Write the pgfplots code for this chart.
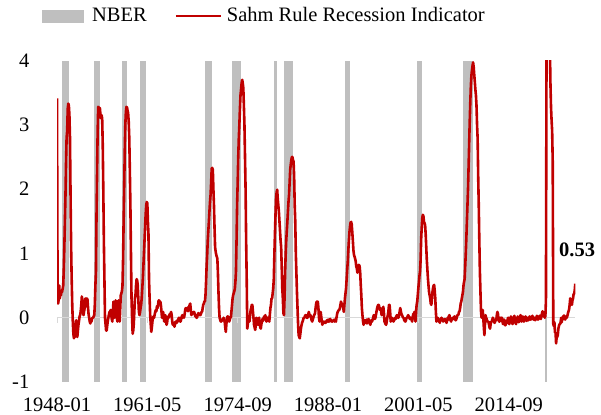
\documentclass[border=0pt]{standalone}
\usepackage{pgfplots}
\pgfplotsset{compat=1.18}
\usepackage{fontspec}
\setmainfont{Liberation Serif}
\definecolor{nber}{HTML}{BFBFBF}
\definecolor{sahm}{HTML}{C00000}
\definecolor{zline}{HTML}{D9D9D9}
\newcommand{\chartfont}{\fontsize{20.5bp}{24bp}\selectfont}
\begin{document}
\chartfont
\begin{tikzpicture}
\useasboundingbox (0,0) rectangle (601bp,415bp);
\begin{axis}[
  at={(57bp,33bp)}, anchor=south west,
  scale only axis, width=518.3bp, height=321.5bp,
  xmin=0, xmax=918, ymin=-1, ymax=4,
  axis line style={draw=none},
  xtick={0,160,320,480,640,800},
  xticklabels={1948-01,1961-05,1974-09,1988-01,2001-05,2014-09},
  ytick={-1,0,1,2,3,4},
  yticklabels={-1,0,1,2,3,4},
  major tick length=0pt,
  tick label style={font=\chartfont, inner sep=0pt},
  xticklabel style={anchor=north, yshift=-15.3bp},
  yticklabel style={anchor=east, xshift=-27.5bp},
  clip mode=individual,
  legend style={
    at={(0.398,1.1384)}, anchor=center,
    draw=none, fill=none, inner sep=0pt, outer sep=0pt,
    font=\chartfont,
    nodes={inner sep=0pt},
    /tikz/every odd column/.append style={column sep=5bp},
    /tikz/every even column/.append style={column sep=28bp},
  },
  legend columns=-1,
]
% NBER recession bands (month index, 0 = 1948-01)
\addplot[fill=nber, draw=none, forget plot] coordinates {(9.5,-1) (9.5,4) (21.5,4) (21.5,-1)} -- cycle;
\addplot[fill=nber, draw=none, forget plot] coordinates {(65.5,-1) (65.5,4) (76.5,4) (76.5,-1)} -- cycle;
\addplot[fill=nber, draw=none, forget plot] coordinates {(114.5,-1) (114.5,4) (123.5,4) (123.5,-1)} -- cycle;
\addplot[fill=nber, draw=none, forget plot] coordinates {(146.5,-1) (146.5,4) (157.5,4) (157.5,-1)} -- cycle;
\addplot[fill=nber, draw=none, forget plot] coordinates {(262.5,-1) (262.5,4) (274.5,4) (274.5,-1)} -- cycle;
\addplot[fill=nber, draw=none, forget plot] coordinates {(309.5,-1) (309.5,4) (326.5,4) (326.5,-1)} -- cycle;
\addplot[fill=nber, draw=none, forget plot] coordinates {(383.5,-1) (383.5,4) (390.5,4) (390.5,-1)} -- cycle;
\addplot[fill=nber, draw=none, forget plot] coordinates {(401.5,-1) (401.5,4) (418.5,4) (418.5,-1)} -- cycle;
\addplot[fill=nber, draw=none, forget plot] coordinates {(509.5,-1) (509.5,4) (518.5,4) (518.5,-1)} -- cycle;
\addplot[fill=nber, draw=none, forget plot] coordinates {(637.5,-1) (637.5,4) (646.5,4) (646.5,-1)} -- cycle;
\addplot[fill=nber, draw=none, forget plot] coordinates {(718.5,-1) (718.5,4) (737.5,4) (737.5,-1)} -- cycle;
\addplot[fill=nber, draw=none, forget plot] coordinates {(864.5,-1) (864.5,4) (867.5,4) (867.5,-1)} -- cycle;
% zero line with ticks
\draw[zline, line width=1.5bp] (axis cs:0,0) -- (axis cs:918,0);
\pgfplotsinvokeforeach{0,160,320,480,640,800}{
  \draw[zline, line width=1bp] (axis cs:#1,0) -- ++(0bp,-5bp);
}
\addlegendimage{legend image code/.code={\fill[nber] (0bp,-6bp) rectangle (41bp,6bp); \path (45bp,0bp);}}
\addlegendentry{NBER}
\addplot[sahm, line width=2.6bp, line join=round,
  legend image code/.code={\draw[sahm, line width=2bp] (0bp,0bp) -- (45bp,0bp);}]
  table[x expr=\coordindex, y=v, row sep=\\] {
v\\
3.41\\0.45\\0.22\\0.28\\0.5\\0.3\\0.38\\0.35\\0.42\\0.4\\
0.45\\0.5\\0.75\\1.1\\1.5\\1.9\\2.4\\2.8\\2.9\\3.25\\
3.33\\3.3\\3.15\\2.8\\1.9\\1.1\\0.6\\0.2\\-0.06\\-0.25\\
-0.32\\-0.2\\-0.3\\-0.1\\-0.04\\-0.2\\-0.3\\-0.2\\-0.11\\-0.05\\
0.02\\0.04\\0.1\\0.2\\0.33\\0.25\\0.1\\0.04\\0.1\\0.15\\
0.3\\0.25\\0.18\\0.3\\0.28\\0.15\\0.05\\0.0\\-0.06\\-0.09\\
-0.05\\-0.06\\-0.02\\0.0\\0.0\\0.02\\0.04\\0.2\\0.5\\0.72\\
1.6\\2.27\\2.9\\3.28\\3.27\\3.25\\3.26\\3.15\\3.1\\3.15\\
3.1\\2.7\\2.0\\1.2\\0.6\\0.0\\-0.1\\-0.2\\-0.2\\-0.12\\
-0.05\\0.0\\0.05\\0.09\\0.08\\0.12\\0.05\\-0.02\\-0.06\\0.1\\
0.25\\0.12\\0.0\\0.1\\0.27\\0.15\\0.0\\-0.06\\0.1\\0.27\\
0.05\\-0.06\\0.15\\0.35\\0.38\\0.41\\0.5\\0.9\\1.5\\2.01\\
2.6\\3.0\\3.2\\3.28\\3.27\\3.22\\3.18\\3.05\\2.8\\2.3\\
1.75\\1.0\\0.3\\0.0\\-0.25\\-0.2\\-0.1\\0.1\\0.3\\0.35\\
0.5\\0.6\\0.58\\0.51\\0.3\\0.1\\0.04\\0.08\\0.15\\0.2\\
0.3\\0.45\\0.6\\0.8\\1.0\\1.2\\1.4\\1.6\\1.75\\1.8\\
1.78\\1.5\\1.3\\0.6\\0.3\\0.05\\-0.1\\-0.22\\-0.15\\-0.06\\
0.0\\0.02\\0.0\\0.05\\0.09\\0.12\\0.1\\0.18\\0.15\\0.2\\
0.27\\0.27\\0.22\\0.25\\0.2\\0.1\\0.0\\0.05\\0.09\\0.0\\
-0.06\\0.0\\0.04\\-0.05\\-0.11\\-0.08\\0.0\\0.02\\0.0\\0.04\\
0.06\\0.04\\0.09\\0.05\\-0.05\\-0.11\\-0.08\\-0.1\\-0.14\\-0.1\\
-0.06\\-0.06\\-0.08\\-0.04\\-0.06\\-0.02\\0.0\\-0.03\\-0.06\\-0.06\\
-0.02\\0.02\\0.04\\0.0\\0.02\\0.0\\0.05\\0.12\\0.15\\0.12\\
0.15\\0.15\\0.1\\0.17\\0.17\\0.2\\0.22\\0.12\\0.04\\0.06\\
0.07\\0.07\\0.09\\0.09\\0.05\\0.02\\0.02\\0.0\\0.0\\0.04\\
0.07\\0.07\\0.05\\0.04\\0.04\\0.06\\0.09\\0.09\\0.15\\0.2\\
0.22\\0.25\\0.25\\0.35\\0.55\\0.8\\0.98\\1.2\\1.35\\1.49\\
1.65\\1.8\\1.91\\2.1\\2.32\\2.33\\2.3\\2.0\\1.75\\1.4\\
1.1\\1.03\\0.98\\0.95\\0.92\\0.7\\0.4\\0.15\\0.0\\-0.03\\
-0.06\\-0.06\\-0.03\\-0.04\\-0.04\\0.0\\-0.04\\-0.06\\-0.15\\-0.22\\
-0.1\\0.0\\0.02\\0.02\\-0.04\\-0.06\\-0.03\\0.0\\0.0\\0.1\\
0.2\\0.3\\0.35\\0.38\\0.41\\0.45\\0.56\\0.72\\1.2\\1.75\\
2.1\\2.5\\2.79\\3.0\\3.25\\3.46\\3.55\\3.65\\3.7\\3.65\\
3.57\\3.3\\3.0\\2.5\\2.0\\1.2\\0.6\\-0.17\\-0.1\\-0.02\\
0.0\\-0.06\\0.05\\0.12\\0.15\\0.2\\0.2\\0.1\\0.0\\-0.11\\
-0.15\\-0.19\\-0.12\\0.0\\-0.02\\-0.08\\-0.11\\-0.06\\0.0\\-0.08\\
-0.15\\-0.17\\-0.1\\-0.06\\-0.02\\-0.05\\0.0\\0.02\\0.0\\0.04\\
-0.02\\-0.06\\-0.03\\0.0\\0.0\\-0.04\\-0.06\\0.05\\0.15\\0.2\\
0.3\\0.3\\0.38\\0.46\\0.6\\0.98\\1.3\\1.6\\1.86\\1.95\\
1.99\\1.85\\1.75\\1.65\\1.5\\1.35\\1.2\\1.1\\0.8\\0.46\\
0.3\\0.07\\0.04\\0.3\\0.7\\0.98\\1.2\\1.35\\1.49\\1.65\\
1.8\\1.91\\2.1\\2.3\\2.38\\2.45\\2.5\\2.5\\2.45\\2.43\\
2.2\\1.75\\1.5\\1.0\\0.7\\0.4\\0.15\\-0.1\\-0.27\\-0.3\\
-0.32\\-0.25\\-0.17\\-0.12\\-0.08\\-0.06\\-0.03\\0.0\\0.0\\0.02\\
0.04\\0.04\\0.0\\0.0\\0.0\\0.05\\0.09\\0.05\\0.02\\0.04\\
0.0\\-0.04\\-0.06\\-0.03\\0.0\\0.03\\0.05\\0.07\\0.15\\0.22\\
0.25\\0.25\\0.25\\0.15\\0.0\\-0.06\\0.0\\0.09\\0.02\\-0.06\\
-0.11\\-0.08\\-0.06\\-0.06\\-0.08\\-0.08\\-0.08\\-0.06\\-0.04\\-0.06\\
-0.03\\-0.06\\-0.06\\-0.03\\-0.02\\-0.04\\-0.06\\-0.05\\-0.06\\-0.04\\
-0.04\\-0.03\\-0.06\\-0.05\\-0.06\\0.0\\0.05\\0.09\\0.1\\0.12\\
0.12\\0.15\\0.2\\0.25\\0.22\\0.2\\0.2\\0.15\\0.09\\0.2\\
0.3\\0.38\\0.46\\0.6\\0.75\\0.87\\1.05\\1.2\\1.33\\1.42\\
1.48\\1.49\\1.45\\1.33\\1.2\\1.05\\0.98\\0.95\\0.92\\0.88\\
0.8\\0.77\\0.7\\0.75\\0.82\\0.82\\0.8\\0.7\\0.51\\0.35\\
0.15\\0.04\\-0.05\\-0.11\\-0.08\\-0.04\\-0.06\\-0.08\\-0.03\\-0.09\\
-0.05\\-0.03\\-0.02\\-0.06\\-0.09\\-0.11\\-0.06\\-0.04\\-0.06\\-0.03\\
0.0\\0.04\\0.0\\-0.02\\0.0\\0.05\\0.1\\0.15\\0.18\\0.2\\
0.2\\0.15\\0.12\\0.15\\0.1\\0.04\\0.07\\0.12\\0.17\\0.08\\
-0.06\\-0.08\\-0.1\\-0.11\\-0.06\\0.0\\0.04\\0.1\\0.2\\0.2\\
0.1\\-0.06\\-0.04\\0.0\\-0.02\\-0.04\\-0.06\\-0.04\\-0.02\\0.0\\
-0.02\\0.02\\0.04\\0.02\\0.0\\0.0\\0.05\\0.1\\0.15\\0.1\\
0.06\\0.04\\0.02\\0.0\\0.0\\-0.04\\-0.05\\-0.06\\-0.04\\0.0\\
0.0\\0.02\\0.04\\0.02\\0.0\\-0.02\\0.0\\0.0\\-0.03\\-0.06\\
0.0\\0.06\\0.04\\0.09\\0.02\\-0.06\\0.1\\0.2\\0.25\\0.35\\
0.46\\0.55\\0.65\\0.72\\0.9\\1.23\\1.4\\1.55\\1.6\\1.58\\
1.49\\1.47\\1.44\\1.3\\1.1\\0.9\\0.75\\0.61\\0.5\\0.4\\
0.35\\0.3\\0.22\\0.2\\0.28\\0.4\\0.46\\0.5\\0.51\\0.42\\
0.3\\0.1\\-0.06\\-0.02\\0.0\\-0.02\\-0.06\\-0.04\\-0.08\\-0.02\\
-0.03\\0.0\\-0.04\\-0.02\\-0.06\\-0.04\\-0.03\\-0.02\\-0.04\\-0.06\\
-0.08\\-0.04\\0.0\\-0.03\\0.02\\0.04\\0.0\\-0.04\\-0.06\\-0.02\\
-0.03\\0.0\\-0.02\\0.0\\0.02\\-0.02\\-0.04\\-0.03\\0.0\\0.04\\
0.04\\0.05\\0.09\\0.1\\0.15\\0.22\\0.25\\0.3\\0.35\\0.4\\
0.5\\0.56\\0.6\\0.8\\1.0\\1.23\\1.5\\1.75\\2.01\\2.35\\
2.7\\3.05\\3.35\\3.6\\3.77\\3.85\\3.92\\3.97\\3.9\\3.78\\
3.67\\3.55\\3.46\\3.3\\3.0\\2.79\\2.2\\1.75\\1.2\\0.72\\
0.4\\0.1\\0.0\\0.05\\0.12\\0.0\\-0.15\\-0.27\\-0.1\\0.04\\
0.0\\-0.02\\-0.05\\-0.06\\-0.06\\-0.1\\-0.15\\-0.17\\-0.1\\-0.06\\
-0.06\\-0.03\\0.0\\-0.02\\-0.06\\-0.08\\-0.06\\-0.04\\-0.04\\0.04\\
0.09\\0.06\\-0.02\\-0.06\\-0.06\\-0.02\\0.0\\-0.04\\0.0\\-0.06\\
-0.1\\-0.05\\-0.03\\-0.06\\-0.12\\-0.1\\-0.05\\-0.08\\-0.03\\0.0\\
-0.05\\-0.1\\-0.06\\-0.02\\0.02\\-0.04\\-0.08\\-0.1\\-0.04\\0.0\\
0.03\\-0.02\\-0.06\\-0.1\\-0.05\\-0.02\\0.02\\-0.03\\-0.07\\-0.04\\
0.0\\0.04\\-0.02\\-0.06\\-0.02\\0.02\\-0.03\\-0.06\\-0.04\\0.0\\
0.02\\-0.02\\-0.05\\-0.02\\0.0\\-0.04\\-0.02\\0.02\\0.0\\-0.03\\
-0.02\\0.0\\0.03\\0.0\\-0.03\\-0.02\\0.0\\-0.04\\-0.02\\0.0\\
0.03\\0.0\\-0.03\\-0.02\\0.0\\0.03\\0.0\\-0.02\\0.02\\0.07\\
0.1\\0.05\\0.02\\0.04\\0.0\\0.03\\0.27\\4.07\\7.3\\9.57\\
8.03\\6.4\\5.3\\4.2\\3.63\\3.27\\3.07\\2.9\\2.43\\-0.1\\
-0.13\\-0.07\\-0.23\\-0.23\\-0.4\\-0.3\\-0.3\\-0.27\\-0.17\\-0.13\\
-0.1\\-0.1\\-0.07\\0.0\\-0.07\\0.0\\-0.03\\0.03\\0.03\\0.03\\
-0.03\\0.0\\0.0\\0.0\\0.03\\0.07\\0.1\\0.13\\0.2\\0.3\\
0.27\\0.23\\0.2\\0.27\\0.3\\0.37\\0.37\\0.43\\0.53\\
};
\addlegendentry{Sahm Rule Recession Indicator}
\node[anchor=base west, inner sep=0pt, font=\chartfont\bfseries, xshift=-16.3bp, yshift=26.9bp] at (axis cs:918,0.53) {0.53};
\end{axis}
\end{tikzpicture}
\end{document}
